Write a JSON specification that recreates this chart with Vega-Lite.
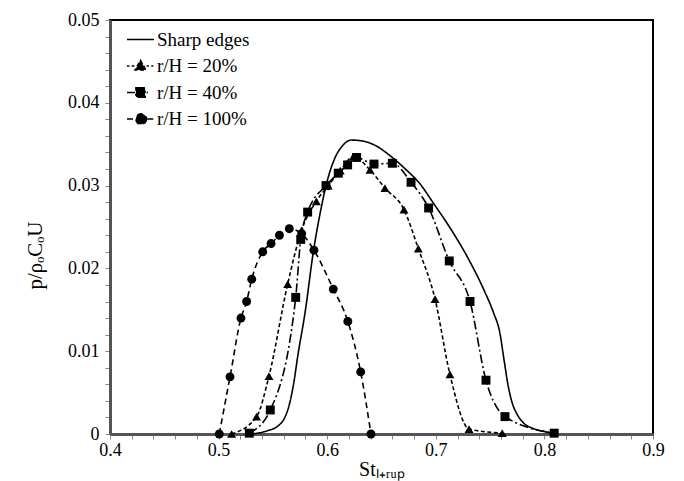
{
  "$schema": "https://vega.github.io/schema/vega-lite/v6.json",
  "width": 543,
  "height": 414,
  "autosize": {"type": "none"},
  "padding": {"left": 110, "top": 20, "right": 31, "bottom": 47},
  "background": "white",
  "config": {
    "view": {"stroke": "black", "strokeWidth": 2},
    "font": "Liberation Serif",
    "axis": {"grid": false, "domainColor": "#555555", "domainWidth": 3, "tickColor": "#888888", "labelFont": "Liberation Serif", "titleFont": "Liberation Serif", "labelColor": "black", "titleColor": "black", "labelFontSize": 18, "titleFontSize": 20, "titleFontWeight": "normal"}
  },
  "datasets": {
    "curves": [
      {"s": "Sharp edges", "x": 0.53, "y": 0},
      {"s": "Sharp edges", "x": 0.545, "y": 0.0004},
      {"s": "Sharp edges", "x": 0.555, "y": 0.001},
      {"s": "Sharp edges", "x": 0.561, "y": 0.002},
      {"s": "Sharp edges", "x": 0.565, "y": 0.0035},
      {"s": "Sharp edges", "x": 0.569, "y": 0.006},
      {"s": "Sharp edges", "x": 0.573, "y": 0.0095},
      {"s": "Sharp edges", "x": 0.58, "y": 0.015},
      {"s": "Sharp edges", "x": 0.587, "y": 0.0218},
      {"s": "Sharp edges", "x": 0.594, "y": 0.027},
      {"s": "Sharp edges", "x": 0.5995, "y": 0.0303},
      {"s": "Sharp edges", "x": 0.607, "y": 0.0333},
      {"s": "Sharp edges", "x": 0.614, "y": 0.0348},
      {"s": "Sharp edges", "x": 0.622, "y": 0.0355},
      {"s": "Sharp edges", "x": 0.632, "y": 0.0354},
      {"s": "Sharp edges", "x": 0.645, "y": 0.0348},
      {"s": "Sharp edges", "x": 0.658, "y": 0.0336},
      {"s": "Sharp edges", "x": 0.672, "y": 0.032},
      {"s": "Sharp edges", "x": 0.6855, "y": 0.0302},
      {"s": "Sharp edges", "x": 0.6977, "y": 0.0279},
      {"s": "Sharp edges", "x": 0.716, "y": 0.0243},
      {"s": "Sharp edges", "x": 0.7315, "y": 0.0208},
      {"s": "Sharp edges", "x": 0.745, "y": 0.0172},
      {"s": "Sharp edges", "x": 0.753, "y": 0.0147},
      {"s": "Sharp edges", "x": 0.759, "y": 0.0122},
      {"s": "Sharp edges", "x": 0.763, "y": 0.0088},
      {"s": "Sharp edges", "x": 0.7668, "y": 0.0057},
      {"s": "Sharp edges", "x": 0.771, "y": 0.0035},
      {"s": "Sharp edges", "x": 0.7744, "y": 0.0025},
      {"s": "Sharp edges", "x": 0.781, "y": 0.0013},
      {"s": "Sharp edges", "x": 0.789, "y": 0.0007},
      {"s": "Sharp edges", "x": 0.8, "y": 0.0003},
      {"s": "Sharp edges", "x": 0.809, "y": 0},

      {"s": "r/H = 20%", "x": 0.512, "y": 0},
      {"s": "r/H = 20%", "x": 0.535, "y": 0.0021},
      {"s": "r/H = 20%", "x": 0.5464, "y": 0.007},
      {"s": "r/H = 20%", "x": 0.5636, "y": 0.0181},
      {"s": "r/H = 20%", "x": 0.5764, "y": 0.0246},
      {"s": "r/H = 20%", "x": 0.59, "y": 0.0281},
      {"s": "r/H = 20%", "x": 0.601, "y": 0.03},
      {"s": "r/H = 20%", "x": 0.612, "y": 0.0318},
      {"s": "r/H = 20%", "x": 0.624, "y": 0.0335},
      {"s": "r/H = 20%", "x": 0.6394, "y": 0.0319},
      {"s": "r/H = 20%", "x": 0.6532, "y": 0.0297},
      {"s": "r/H = 20%", "x": 0.6707, "y": 0.0271},
      {"s": "r/H = 20%", "x": 0.6839, "y": 0.0224},
      {"s": "r/H = 20%", "x": 0.6993, "y": 0.0163},
      {"s": "r/H = 20%", "x": 0.713, "y": 0.0072},
      {"s": "r/H = 20%", "x": 0.7306, "y": 0.0006},
      {"s": "r/H = 20%", "x": 0.7612, "y": 0.0001},

      {"s": "r/H = 40%", "x": 0.5283, "y": 0.0001},
      {"s": "r/H = 40%", "x": 0.5476, "y": 0.0029},
      {"s": "r/H = 40%", "x": 0.571, "y": 0.0165},
      {"s": "r/H = 40%", "x": 0.5756, "y": 0.0235},
      {"s": "r/H = 40%", "x": 0.582, "y": 0.0268},
      {"s": "r/H = 40%", "x": 0.5989, "y": 0.03},
      {"s": "r/H = 40%", "x": 0.6102, "y": 0.0315},
      {"s": "r/H = 40%", "x": 0.6188, "y": 0.0325},
      {"s": "r/H = 40%", "x": 0.6271, "y": 0.0334},
      {"s": "r/H = 40%", "x": 0.6431, "y": 0.0326},
      {"s": "r/H = 40%", "x": 0.66, "y": 0.0327},
      {"s": "r/H = 40%", "x": 0.6772, "y": 0.0304},
      {"s": "r/H = 40%", "x": 0.6934, "y": 0.0273},
      {"s": "r/H = 40%", "x": 0.7124, "y": 0.0209},
      {"s": "r/H = 40%", "x": 0.7315, "y": 0.016},
      {"s": "r/H = 40%", "x": 0.7462, "y": 0.0065},
      {"s": "r/H = 40%", "x": 0.7637, "y": 0.0021},
      {"s": "r/H = 40%", "x": 0.809, "y": 0.0001},

      {"s": "r/H = 100%", "x": 0.5006, "y": 0},
      {"s": "r/H = 100%", "x": 0.5105, "y": 0.0069},
      {"s": "r/H = 100%", "x": 0.5206, "y": 0.014},
      {"s": "r/H = 100%", "x": 0.5258, "y": 0.016},
      {"s": "r/H = 100%", "x": 0.5305, "y": 0.0187},
      {"s": "r/H = 100%", "x": 0.5406, "y": 0.022},
      {"s": "r/H = 100%", "x": 0.5483, "y": 0.023},
      {"s": "r/H = 100%", "x": 0.556, "y": 0.024},
      {"s": "r/H = 100%", "x": 0.5651, "y": 0.0248},
      {"s": "r/H = 100%", "x": 0.5765, "y": 0.0242},
      {"s": "r/H = 100%", "x": 0.5878, "y": 0.0222},
      {"s": "r/H = 100%", "x": 0.6056, "y": 0.0175},
      {"s": "r/H = 100%", "x": 0.619, "y": 0.0136},
      {"s": "r/H = 100%", "x": 0.6308, "y": 0.0075},
      {"s": "r/H = 100%", "x": 0.6403, "y": 0}
    ]
  },
  "encoding": {
    "x": {"field": "x", "type": "quantitative", "scale": {"domain": [0.4, 0.9], "nice": false},
      "axis": {"title": "Stₗ₊ᵣᵤₚ", "values": [0.4,0.42,0.44,0.46,0.48,0.5,0.52,0.54,0.56,0.58,0.6,0.62,0.64,0.66,0.68,0.7,0.72,0.74,0.76,0.78,0.8,0.82,0.84,0.86,0.88,0.9],
        "labelExpr": "abs(datum.value*10 - round(datum.value*10)) < 0.001 ? format(datum.value, '.1f') : ''",
        "tickSize": 5, "labelPadding": 2, "titlePadding": 0, "labelFlush": false}},
    "y": {"field": "y", "type": "quantitative", "scale": {"domain": [0, 0.05], "nice": false},
      "axis": {"title": "p/ρₒCₒU", "values": [0,0.002,0.004,0.006,0.008,0.01,0.012,0.014,0.016,0.018,0.02,0.022,0.024,0.026,0.028,0.03,0.032,0.034,0.036,0.038,0.04,0.042,0.044,0.046,0.048,0.05],
        "labelExpr": "abs(datum.value*100 - round(datum.value*100)) < 0.001 ? (datum.value == 0 ? '0' : format(datum.value, '.2f')) : ''",
        "tickSize": 5, "labelPadding": 6, "titlePadding": 22, "titleFontSize": 21, "titleY": 235, "labelFlush": false}}
  },
  "layer": [
    {
      "data": {"name": "curves"},
      "mark": {"type": "line", "interpolate": "monotone", "color": "black", "strokeWidth": 1.6},
      "encoding": {
        "detail": {"field": "s"},
        "strokeDash": {"field": "s", "type": "nominal",
          "scale": {"domain": ["Sharp edges", "r/H = 20%", "r/H = 40%", "r/H = 100%"], "range": [[1, 0], [4, 2.5], [9, 3, 2, 3], [6, 4]]},
          "legend": {"title": null, "orient": "none", "legendX": 16, "legendY": 5, "padding": 0,
            "symbolSize": 729, "symbolStrokeWidth": 1.6, "symbolStrokeColor": "black", "symbolFillColor": "black",
            "labelFontSize": 19, "labelFont": "Liberation Serif", "labelColor": "black", "labelOffset": 2, "rowPadding": 1.5, "labelLimit": 200,
            "encode": {"symbols": {"update": {
              "shape": {"signal": "datum.value == 'Sharp edges' ? 'M-1,0H1' : datum.value == 'r/H = 20%' ? 'M-1,0H-0.82M-0.65,0H-0.45M0,-0.42L0.4,0.3L-0.4,0.3ZM0.45,0H0.62M0.8,0H0.95' : datum.value == 'r/H = 40%' ? 'M-1,0H-0.4M-0.34,-0.34H0.34V0.34H-0.34ZM0.45,0H0.55' : 'M-1,0H-0.55M0.5,0H0.95M0.44,0A0.39,0.39 0 1,1 -0.34,0A0.39,0.39 0 1,1 0.44,0Z'"},
              "strokeDash": {"value": []},
              "stroke": {"value": "black"},
              "fill": {"value": "black"},
              "strokeWidth": {"value": 1.6}
            }}}}}
      }
    },
    {
      "data": {"name": "curves"},
      "transform": [{"filter": "datum.s != 'Sharp edges'"}],
      "mark": {"type": "point", "filled": true, "color": "black", "opacity": 1, "size": 80},
      "encoding": {
        "shape": {"field": "s", "type": "nominal",
          "scale": {"domain": ["r/H = 20%", "r/H = 40%", "r/H = 100%"], "range": ["triangle-up", "square", "circle"]},
          "legend": null}
      }
    },
    {
      "data": {"values": [{}]},
      "mark": {"type": "text", "font": "Liberation Serif", "fontSize": 19, "color": "black", "align": "center", "baseline": "middle"},
      "encoding": {
        "x": {"datum": 0.819},
        "y": {"datum": 0.0475},
        "text": {"value": "Both curved edges"}
      }
    }
  ]
}
